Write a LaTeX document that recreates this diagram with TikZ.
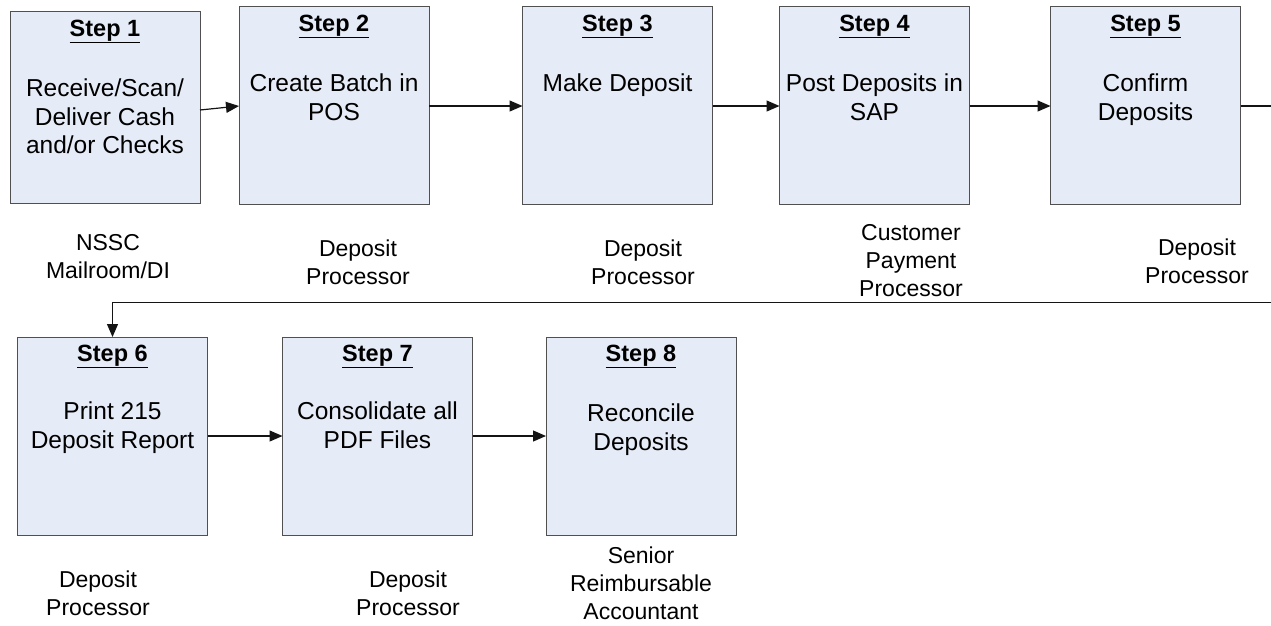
\documentclass[tikz,border=0pt]{standalone}
\usepackage{fontspec}
\setmainfont{Liberation Sans}
\usetikzlibrary{arrows.meta}
\definecolor{stepfill}{RGB}{230,236,247}
\definecolor{stepline}{RGB}{80,80,80}
\definecolor{flowline}{RGB}{20,20,20}
\begin{document}
\begin{tikzpicture}[x=1pt,y=-1pt,
  stepbox/.style={draw=stepline, fill=stepfill, line width=0.9pt,
    minimum width=190pt, minimum height=198pt, inner sep=0pt, outer sep=0pt},
  steptitle/.style={anchor=base, inner sep=0pt,
    font=\fontsize{23.5}{27}\selectfont\bfseries},
  steptext/.style={anchor=north, inner sep=0pt, align=center,
    font=\fontsize{24.5}{28.5}\selectfont},
  role/.style={inner sep=0pt, align=center,
    font=\fontsize{23}{28}\selectfont},
  flow/.style={draw=flowline, line width=1.2pt,
    -{Triangle[length=13pt,width=11pt]}}]
  \useasboundingbox (0,0) rectangle (1271,625);
  \clip (0,0) rectangle (1271,625);

  % process steps
  \node[stepbox, minimum height=192pt] (s1) at (105,107) {};
  \node[stepbox] (s2) at (334,105.5) {};
  \node[stepbox] (s3) at (617.5,105.5) {};
  \node[stepbox] (s4) at (874.5,105.5) {};
  \node[stepbox] (s5) at (1145.5,105.5) {};
  \node[stepbox] (s6) at (112.5,436) {};
  \node[stepbox] (s7) at (377.5,436) {};
  \node[stepbox] (s8) at (641,436) {};

  % step titles
  \node[steptitle] (h1) at (105,36) {\underline{Step 1}};
  \node[steptitle] (h2) at (334,31) {\underline{Step 2}};
  \node[steptitle] (h3) at (617.5,31) {\underline{Step 3}};
  \node[steptitle] (h4) at (874.5,31) {\underline{Step 4}};
  \node[steptitle] (h5) at (1145.5,31) {\underline{Step 5}};
  \node[steptitle] (h6) at (112.5,361) {\underline{Step 6}};
  \node[steptitle] (h7) at (377.5,361) {\underline{Step 7}};
  \node[steptitle] (h8) at (641,361) {\underline{Step 8}};

  % step descriptions
  \node[steptext] (b1) at (105,79) {Receive/Scan/\\Deliver Cash\\and/or Checks};
  \node[steptext] (b2) at (334,74) {Create Batch in\\POS};
  \node[steptext] (b3) at (617.5,74) {Make Deposit};
  \node[steptext] (b4) at (874.5,74) {Post Deposits in\\SAP};
  \node[steptext] (b5) at (1145.5,74) {Confirm\\Deposits};
  \node[steptext] (b6) at (112.5,402) {Print 215\\Deposit Report};
  \node[steptext] (b7) at (377.5,402) {Consolidate all\\PDF Files};
  \node[steptext] (b8) at (641,404) {Reconcile\\Deposits};

  % responsible roles
  \node[role] (r1) at (108,257) {NSSC\\Mailroom/DI};
  \node[role] (r2) at (358,262) {Deposit\\Processor};
  \node[role] (r3) at (643,262) {Deposit\\Processor};
  \node[role] (r4) at (911,261) {Customer\\Payment\\Processor};
  \node[role] (r5) at (1197,261) {Deposit\\Processor};
  \node[role] (r6) at (98,593) {Deposit\\Processor};
  \node[role] (r7) at (408,593) {Deposit\\Processor};
  \node[role] (r8) at (641,583) {Senior\\Reimbursable\\Accountant};

  % flow between steps
  \coordinate (turnA) at (1290,106);
  \coordinate (turnB) at (1290,302.5);
  \coordinate (turnC) at (s6.north |- turnB);
  \draw[flow] (200,110) -- (s2.west |- 0,106);
  \draw[flow] (s2.east |- 0,106) -- (s3.west |- 0,106);
  \draw[flow] (s3.east |- 0,106) -- (s4.west |- 0,106);
  \draw[flow] (s4.east |- 0,106) -- (s5.west |- 0,106);
  \draw[flow] (s5.east |- turnA) -- (turnA) -- (turnB) -- (turnC) -- (s6.north);
  \draw[flow] (s6.east |- 0,436) -- (s7.west |- 0,436);
  \draw[flow] (s7.east |- 0,436) -- (s8.west |- 0,436);
\end{tikzpicture}
\end{document}
